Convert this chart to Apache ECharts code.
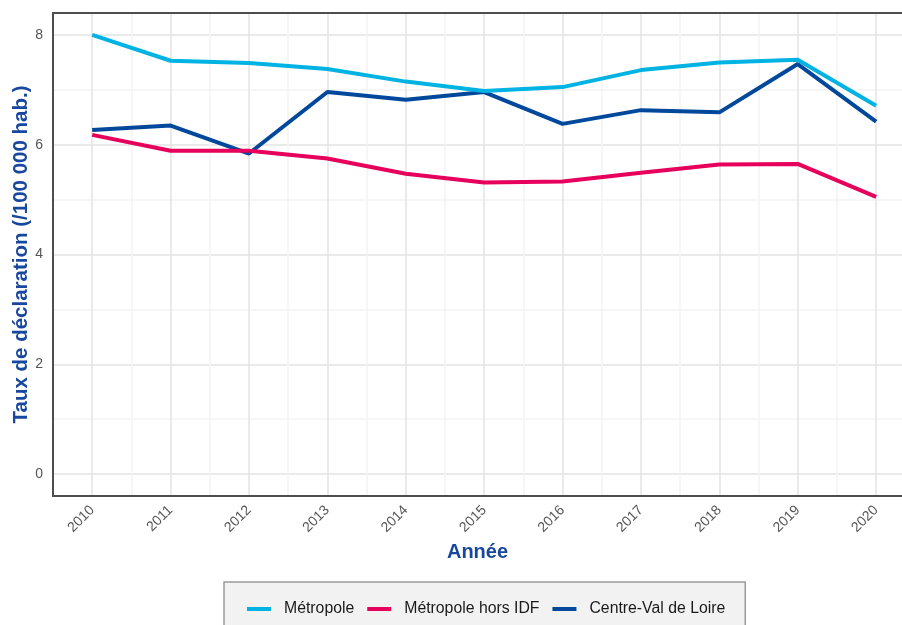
<!DOCTYPE html>
<html>
<head>
<meta charset="utf-8">
<title>Taux de déclaration</title>
<script src="https://cdn.jsdelivr.net/npm/echarts@6/dist/echarts.min.js"></script>
<style>
  html, body { margin: 0; padding: 0; background: #fff; }
  #chart { width: 902px; height: 625px; }
</style>
</head>
<body>
<div id="chart"></div>
<script>
// data
const years = [2010, 2011, 2012, 2013, 2014, 2015, 2016, 2017, 2018, 2019, 2020];
const metropole = [8.0, 7.53, 7.49, 7.38, 7.15, 6.98, 7.05, 7.36, 7.5, 7.55, 6.71];
const metropoleHorsIdf = [6.18, 5.89, 5.89, 5.75, 5.47, 5.31, 5.33, 5.49, 5.64, 5.65, 5.05];
const centreValDeLoire = [6.27, 6.35, 5.84, 6.96, 6.82, 6.96, 6.38, 6.63, 6.59, 7.47, 6.42];
const seriesNames = ['Métropole', 'Métropole hors IDF', 'Centre-Val de Loire'];
const colors = ['#00b3e3', '#e6005c', '#00489b'];

const font = "'Liberation Sans', Arial, sans-serif";
const titleColor = '#17479e';
const major = '#e3e3e3';
const minor = '#f3f3f3';
const clear = 'rgba(0,0,0,0)';

function pairs(values) {
  return years.map((y, i) => [y, values[i]]);
}

function isEvenInt(v) {
  const r = Math.round(v);
  return Math.abs(v - r) < 1e-6 && r % 2 === 0;
}

const myechart = echarts.init(document.getElementById('chart'));

// y ticks every 0.2 from -0.4: major line at even ints, minor at odd ints
const yLineColors = [clear, clear, major, clear, clear, clear, clear, minor, clear, clear];

const option = {
  animation: false,
  textStyle: { fontFamily: font },
  grid: {
    left: 53,
    right: 0,
    top: 13,
    bottom: 129,
    outerBoundsMode: 'none',
    containLabel: false,
  },
  legend: {
    data: seriesNames,
    left: 224,
    top: 582,
    padding: [19, 20, 15, 23],
    backgroundColor: '#f2f2f2',
    borderColor: '#9a9a9a',
    borderWidth: 1.5,
    borderRadius: 0,
    icon: 'rect',
    itemWidth: 24,
    itemHeight: 4,
    itemGap: 13,
    textStyle: {
      fontFamily: font,
      fontSize: 15.8,
      color: '#1a1a1a',
      padding: [0, 0, 0, 8],
    },
  },
  xAxis: [
    {
      type: 'value',
      min: 2009.5,
      max: 2020.33,
      interval: 0.5,
      name: 'Année',
      nameLocation: 'middle',
      nameGap: 46,
      nameMoveOverlap: false,
      nameTextStyle: {
        fontFamily: font,
        fontSize: 20,
        fontWeight: 'bold',
        color: titleColor,
      },
      axisLine: { show: true, onZero: false, lineStyle: { color: '#4d4d4d', width: 2 } },
      axisTick: { show: false },
      axisLabel: {
        rotate: 45,
        margin: 12,
        fontSize: 14,
        color: '#555',
        showMaxLabel: false,
        formatter: (v) => (Math.abs(v - Math.round(v)) < 1e-6 ? String(Math.round(v)) : ''),
      },
      splitLine: {
        show: true,
        showMinLine: true,
        showMaxLine: false,
        lineStyle: { color: [minor, major], width: 1.5 },
      },
    },
    {
      type: 'value',
      position: 'top',
      min: 2009.5,
      max: 2020.33,
      axisLine: { show: true, onZero: false, lineStyle: { color: '#4d4d4d', width: 2 } },
      axisTick: { show: false },
      axisLabel: { show: false },
      splitLine: { show: false },
    },
  ],
  yAxis: {
    type: 'value',
    min: -0.4,
    max: 8.4,
    interval: 0.2,
    name: 'Taux de déclaration (/100 000 hab.)',
    nameLocation: 'middle',
    nameGap: 21,
    nameMoveOverlap: false,
    nameTextStyle: {
      fontFamily: font,
      fontSize: 20.5,
      fontWeight: 'bold',
      color: titleColor,
    },
    axisLine: { show: true, onZero: false, lineStyle: { color: '#4d4d4d', width: 2 } },
    axisTick: { show: false },
    axisLabel: {
      margin: 10,
      fontSize: 14,
      color: '#555',
      showMinLabel: false,
      showMaxLabel: false,
      formatter: (v) => (isEvenInt(v) ? String(Math.round(v)) : ''),
    },
    splitLine: {
      show: true,
      showMinLine: true,
      showMaxLine: false,
      lineStyle: { color: yLineColors, width: 1.5 },
    },
  },
  series: [
    {
      name: 'Centre-Val de Loire',
      type: 'line',
      symbol: 'none',
      color: colors[2],
      lineStyle: { width: 4 },
      data: pairs(centreValDeLoire),
    },
    {
      name: 'Métropole hors IDF',
      type: 'line',
      symbol: 'none',
      color: colors[1],
      lineStyle: { width: 4 },
      data: pairs(metropoleHorsIdf),
    },
    {
      name: 'Métropole',
      type: 'line',
      symbol: 'none',
      color: colors[0],
      lineStyle: { width: 4 },
      data: pairs(metropole),
    },
  ],
};

myechart.setOption(option);
window.addEventListener('resize', () => myechart.resize());
</script>
</body>
</html>
